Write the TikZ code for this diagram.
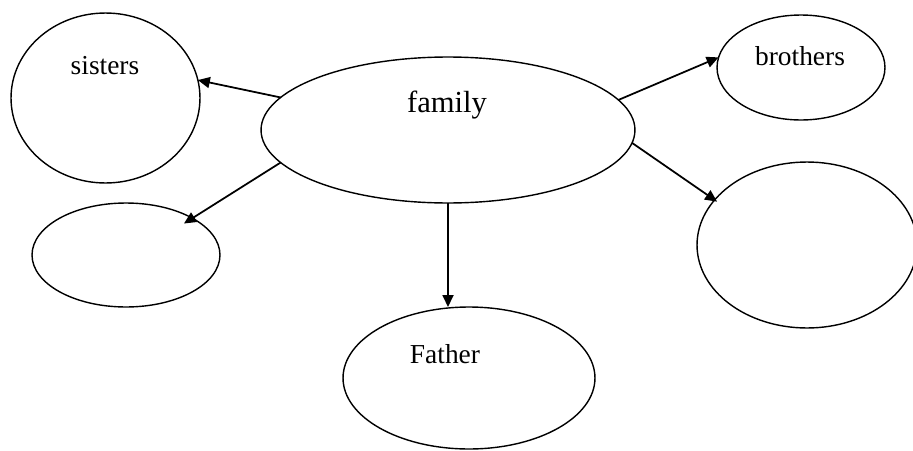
\documentclass[tikz,border=0pt]{standalone}
\usepackage{fontspec}
\setmainfont{Liberation Serif}
\usetikzlibrary{arrows.meta,shapes.geometric}

\begin{document}
\begin{tikzpicture}[x=0.02cm, y=-0.02cm, >={Triangle[length=0.24cm,width=0.22cm]},
    bubble/.style={draw, ellipse, line width=0.8pt, inner sep=0pt, outer sep=0pt},
    word/.style={inner sep=0pt, font=\fontsize{15.6pt}{18pt}\selectfont},
    link/.style={->, line width=1pt}]

  \useasboundingbox (0,0) rectangle (913,450);

  % Ellipses
  \node[bubble, minimum width=3.78cm, minimum height=3.4cm]  (sisters)  at (105.5,98)  {};
  \node[bubble, minimum width=3.76cm, minimum height=2.08cm] (lowleft)  at (126,255)   {};
  \node[bubble, minimum width=7.48cm, minimum height=2.92cm] (family)   at (448,130)   {};
  \node[bubble, minimum width=3.36cm, minimum height=2.1cm]  (brothers) at (801,67.5)  {};
  \node[bubble, minimum width=4.4cm,  minimum height=3.32cm] (lowright) at (807,245)   {};
  \node[bubble, minimum width=5.04cm, minimum height=2.84cm] (father)   at (469,378)   {};

  % Labels
  \node[word] (sisterstext)  at (105,66)  {sisters};
  \node[word, font=\fontsize{17.4pt}{20pt}\selectfont] (familytext) at (447,105) {family};
  \node[word] (brotherstext) at (800,56)  {brothers};
  \node[word] (fathertext)   at (445,354) {Father};

  % Arrows
  \draw[link] (family.169.2) -- (sisters.11.4);
  \draw[link, shorten >=-0.2cm] (family.191.1) -- (lowleft.29.7);
  \draw[link] (family.south) -- (family.south |- father.north);
  \draw[link] (family.10.7)  -- (brothers.173.5);
  \draw[link, shorten >=-0.06cm] (family.356.3) -- (lowright.154.5);

\end{tikzpicture}
\end{document}
